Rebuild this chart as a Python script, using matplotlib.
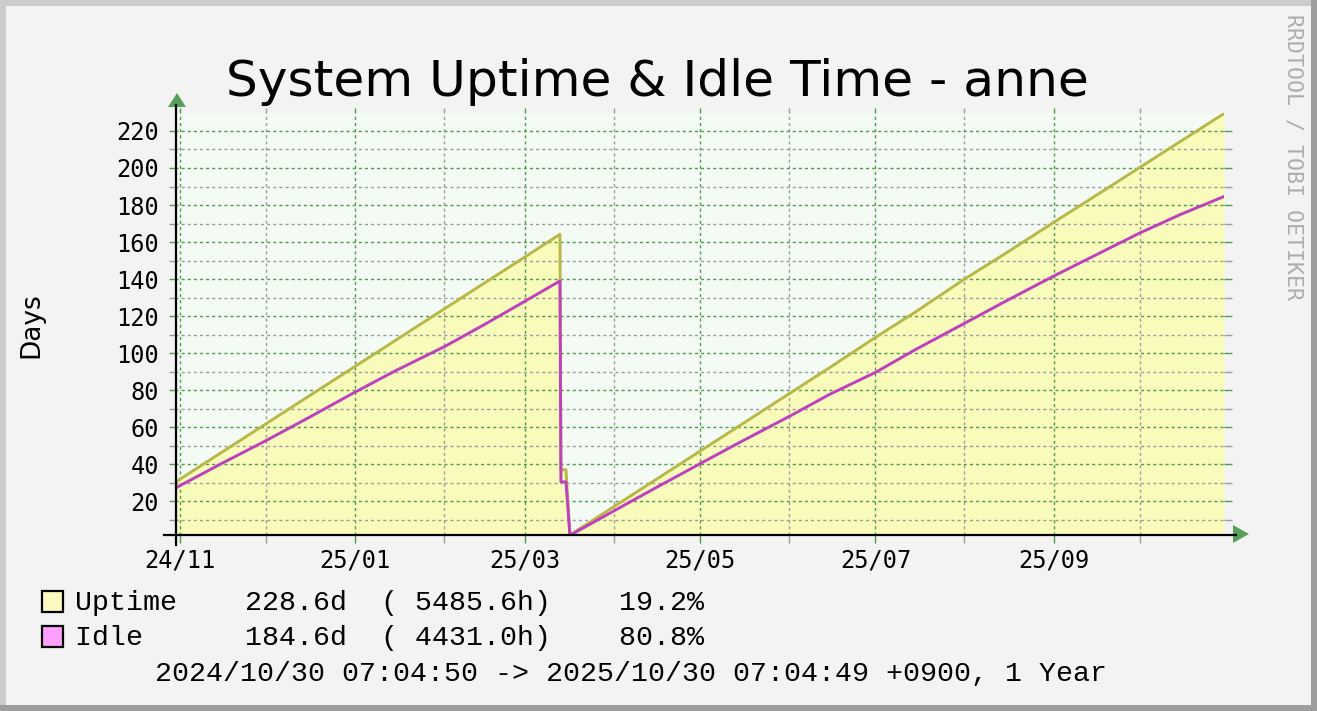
import matplotlib
matplotlib.use('Agg')
import matplotlib.pyplot as plt
import matplotlib.dates as mdates
import pandas as pd
from matplotlib.patches import Rectangle, Polygon
from matplotlib.lines import Line2D
from matplotlib.ticker import MultipleLocator

W, H = 1317, 711  # output size in pixels (dpi 100)

# Uptime in days
uptime_dates = ['2024-10-30 07:05', '2024-11-15', '2024-12-01', '2024-12-15', '2025-01-01',
                '2025-01-15', '2025-02-01', '2025-02-15', '2025-03-01', '2025-03-13 06:00',
                '2025-03-13 14:00', '2025-03-15 08:00', '2025-03-16 17:00', '2025-04-01',
                '2025-04-15', '2025-05-01', '2025-05-15', '2025-06-01', '2025-06-15',
                '2025-07-01', '2025-07-15', '2025-08-01', '2025-08-15', '2025-09-01',
                '2025-09-15', '2025-10-01', '2025-10-15', '2025-10-30 07:04']
uptime_days = [30.2, 45.9, 61.9, 75.9, 92.9,
               106.9, 123.9, 137.9, 151.9, 164.2,
               37.0, 37.0, 1.8, 17.1,
               31.1, 47.1, 61.1, 78.1, 92.1,
               108.5, 122.3, 140.0, 153.6, 170.6,
               184.4, 200.3, 214.2, 229.4]

# Idle time in days
idle_dates = uptime_dates
idle_days = [27.0, 40.0, 52.8, 64.5, 79.0,
             90.5, 103.5, 115.5, 128.0, 139.0,
             30.5, 30.5, 1.6, 14.8,
             26.8, 40.3, 52.0, 65.8, 77.7,
             89.6, 102.0, 116.1, 127.8, 141.6,
             152.5, 164.9, 174.8, 184.6]

legend_rows = ['Uptime    228.6d  ( 5485.6h)    19.2%',
               'Idle      184.6d  ( 4431.0h)    80.8%']
period_text = '2024/10/30 07:04:50 -> 2025/10/30 07:04:49 +0900, 1 Year'
x_start, x_end = '2024-10-30 07:04:50', '2025-10-30 07:04:49'

GREEN = '#4C9C4C'
GRAY = '#9C9C9C'
MONO = ['DejaVu Sans Mono']
LEGEND_FONT = ['Liberation Mono', 'DejaVu Sans Mono']
DASH = (0, (2.2, 2.2))


def fx(x):  # pixel x -> figure fraction
    return x / W


def fy(y):  # pixel y (from top) -> figure fraction
    return 1 - y / H


fig = plt.figure(figsize=(W / 100, H / 100), dpi=100, facecolor='#F3F3F3')

# 3D-ish frame like rrdtool
for (x0, y0, w, h, c) in [(0, 0, W, 6, '#CCCCCC'), (0, 0, 6, H, '#CCCCCC'),
                          (W - 6, 0, 6, H, '#9E9E9E'), (0, H - 6, W, 6, '#9E9E9E')]:
    fig.add_artist(Rectangle((fx(x0), fy(y0 + h)), w / W, h / H, transform=fig.transFigure,
                             facecolor=c, edgecolor='none'))

# plot area
left, right, top, bottom = 175, 1224, 113, 535
ax = fig.add_axes([fx(left), fy(bottom), (right - left) / W, (bottom - top) / H])
ax.set_facecolor('#F4FAF4')

xd = pd.to_datetime(uptime_dates, format='mixed')
ax.fill_between(xd, uptime_days, 0, color='#F9FBBB', linewidth=0, zorder=1)
ax.plot(xd, uptime_days, color='#B8B848', linewidth=2.1, zorder=3)
ax.plot(pd.to_datetime(idle_dates, format='mixed'), idle_days, color='#BF40BF',
        linewidth=2.1, zorder=4)

ax.set_xlim(pd.Timestamp(x_start), pd.Timestamp(x_end))
ax.set_ylim(1.8, 229.7)

ax.yaxis.set_major_locator(MultipleLocator(20))
ax.yaxis.set_minor_locator(MultipleLocator(10))
ax.xaxis.set_major_locator(mdates.MonthLocator(bymonth=[1, 3, 5, 7, 9, 11]))
ax.xaxis.set_minor_locator(mdates.MonthLocator())
ax.xaxis.set_major_formatter(mdates.DateFormatter('%y/%m'))

ax.set_axisbelow('line')
ax.grid(True, which='minor', color=GRAY, linestyle=DASH, linewidth=1.0)
ax.grid(True, which='major', color=GREEN, linestyle=DASH, linewidth=1.0)

for s in ax.spines.values():
    s.set_visible(False)

ax.tick_params(axis='both', which='both', direction='out', width=1.0, labelsize=17,
               left=True, right=True, bottom=True, top=True,
               labelright=False, labeltop=False)
ax.tick_params(axis='y', which='major', color=GREEN, pad=8)
ax.tick_params(axis='y', which='minor', color=GRAY)
ax.tick_params(axis='x', which='major', color=GREEN, pad=6)
ax.tick_params(axis='x', which='minor', color=GRAY)
for ticks, length in [(ax.yaxis.get_major_ticks() + ax.yaxis.get_minor_ticks(), (4.3, 5.8)),
                      (ax.xaxis.get_major_ticks() + ax.xaxis.get_minor_ticks(), (5.8, 3.6))]:
    for t in ticks:
        t.tick1line.set_markersize(length[0])
        t.tick2line.set_markersize(length[1])
for lab in ax.get_xticklabels() + ax.get_yticklabels():
    lab.set_family(MONO)

# extended axis lines with green arrow heads
fig.add_artist(Line2D([fx(176), fx(176)], [fy(545), fy(105)], color='black', linewidth=1.6,
                      transform=fig.transFigure))
fig.add_artist(Line2D([fx(164), fx(1236)], [fy(534.5), fy(534.5)], color='black', linewidth=1.6,
                      transform=fig.transFigure))
fig.add_artist(Polygon([(fx(168), fy(107)), (fx(186), fy(107)), (fx(177), fy(93))],
                       closed=True, transform=fig.transFigure, facecolor='#58A058', edgecolor='none'))
fig.add_artist(Polygon([(fx(1233), fy(525)), (fx(1233), fy(543)), (fx(1249), fy(534))],
                       closed=True, transform=fig.transFigure, facecolor='#58A058', edgecolor='none'))

# texts
fig.text(fx(657), fy(96), 'System Uptime & Idle Time - anne', ha='center', va='baseline',
         fontsize=36.2, family='DejaVu Sans', color='black')
fig.text(fx(31), fy(325), 'Days', rotation=90, ha='center', va='center',
         fontsize=19, family='DejaVu Sans', color='black')
fig.text(fx(1293), fy(157), 'RRDTOOL / TOBI OETIKER', rotation=270, ha='center', va='center',
         fontsize=15.5, family=MONO, color='#ADADAD')

# legend
swatch_colors = ['#FAFAC0', '#FFA0FF']
for i, (row, sc) in enumerate(zip(legend_rows, swatch_colors)):
    ytop = 591 + i * 35
    fig.add_artist(Rectangle((fx(42), fy(ytop + 21)), 21 / W, 21 / H, transform=fig.transFigure,
                             facecolor=sc, edgecolor='black', linewidth=1.6))
    fig.text(fx(75), fy(610 + i * 35), row, ha='left', va='baseline', fontsize=20.3,
             family=LEGEND_FONT, color='black')
fig.text(fx(155), fy(681), period_text, ha='left', va='baseline', fontsize=20.3,
         family=LEGEND_FONT, color='black')

fig.savefig('out.png', dpi=100, facecolor=fig.get_facecolor())
